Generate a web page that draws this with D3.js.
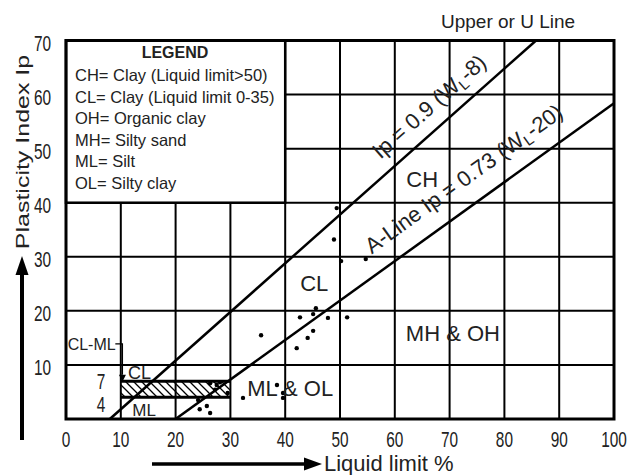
<!DOCTYPE html>
<html>
<head>
<meta charset="utf-8">
<script src="https://cdn.jsdelivr.net/npm/d3@7"></script>
<style>
  body { margin: 0; background: #fff; }
  svg { display: block; font-family: 'Liberation Sans', Arial, sans-serif; }
</style>
</head>
<body>
<svg id="chart" width="629" height="475"></svg>
<script>
const xTicks = [0, 10, 20, 30, 40, 50, 60, 70, 80, 90, 100];
const yTicks = [10, 20, 30, 40, 50, 60, 70];
const legendTitle = 'LEGEND';
const legendItems = [
  'CH= Clay (Liquid limit>50)',
  'CL= Clay (Liquid limit 0-35)',
  'OH= Organic clay',
  'MH= Silty sand',
  'ML= Silt',
  'OL= Silty clay'
];
// Ip = slope * (WL - start)
const lineSlope = [0.9, 0.73];
const lineStart = [8, 20];
// test results
const liquidLimit = [49.4, 48.9, 50.2, 54.7, 45.6, 42.7, 45.1, 47.8, 51.3, 45.1, 44.1, 42.1, 35.6,
  38.5, 39.6, 39.6, 32.3, 29.5, 27.5, 26.3, 28.1, 27.2, 24.1, 25.7, 24.4, 26.3];
const plasticity = [39.0, 33.2, 29.2, 29.6, 20.5, 18.8, 19.4, 18.7, 18.8, 16.3, 15.0, 13.1, 15.5,
  6.3, 4.8, 3.9, 3.9, 4.8, 6.3, 6.6, 6.8, 5.4, 3.5, 2.4, 1.8, 1.1];
// CL-ML band
const bandLL = [10, 30];
const bandIp = [4, 7];

const chart = {
  option: {left: 66, right: 614, top: 40.5, bottom: 419, tickSqueeze: 0.7}
};

function translate(x, y) {
  return `translate(${x}, ${y})`;
};

const svg = d3.select('#chart');
const opt = chart.option;
const x = d3.scaleLinear().domain([0, 100]).range([opt.left, opt.right]);
const y = d3.scaleLinear().domain([0, 70]).range([opt.bottom, opt.top]);

// ---------- hatch pattern ----------
svg.append('defs').append('pattern')
  .attr('id', 'hatch')
  .attr('patternUnits', 'userSpaceOnUse')
  .attr('width', 8).attr('height', 8)
  .append('path')
    .attr('d', 'M0,0L8,8M-4,4L4,12M4,-4L12,4')
    .attr('stroke', '#000')
    .attr('stroke-width', 1.3);

// ---------- grid ----------
const grid = svg.append('g').attr('stroke', '#000').attr('stroke-width', 2);
grid.selectAll('.vx').data(xTicks.slice(1, -1)).enter().append('line')
  .attr('x1', d => x(d)).attr('x2', d => x(d))
  .attr('y1', y(0)).attr('y2', y(70));
grid.selectAll('.hy').data(yTicks.slice(0, -1)).enter().append('line')
  .attr('x1', x(0)).attr('x2', x(100))
  .attr('y1', d => y(d)).attr('y2', d => y(d));

// ---------- CL-ML band ----------
svg.append('rect')
  .attr('x', x(bandLL[0])).attr('y', y(bandIp[1]))
  .attr('width', x(bandLL[1]) - x(bandLL[0]))
  .attr('height', y(bandIp[0]) - y(bandIp[1]))
  .attr('fill', 'url(#hatch)');
svg.selectAll('.band').data(bandIp).enter().append('line')
  .attr('x1', x(bandLL[0])).attr('x2', x(bandLL[1]))
  .attr('y1', d => y(d)).attr('y2', d => y(d))
  .attr('stroke', '#000').attr('stroke-width', 3);

// ---------- U and A lines ----------
const lineEnds = lineSlope.map((s, i) => {
  const xEnd = Math.min(100, lineStart[i] + 70 / s);
  return [[lineStart[i], 0], [xEnd, s * (xEnd - lineStart[i])]];
});
svg.selectAll('.soil-line').data(lineEnds).enter().append('path')
  .attr('d', d3.line().x(d => x(d[0])).y(d => y(d[1])))
  .attr('fill', 'none')
  .attr('stroke', '#000')
  .attr('stroke-width', 2.5);

// ---------- points ----------
svg.selectAll('.pt').data(liquidLimit).enter().append('circle')
  .attr('cx', d => x(d))
  .attr('cy', (d, i) => y(plasticity[i]))
  .attr('r', 2.2)
  .attr('fill', '#000');

// ---------- legend ----------
svg.append('rect')
  .attr('x', x(0)).attr('y', y(70))
  .attr('width', x(40) - x(0)).attr('height', y(40) - y(70))
  .attr('fill', '#fff').attr('stroke', '#000').attr('stroke-width', 2.5);
svg.append('text')
  .attr('x', 175).attr('y', 58)
  .attr('text-anchor', 'middle')
  .attr('font-weight', 'bold')
  .attr('font-size', 16)
  .attr('fill', '#222')
  .text(legendTitle);
svg.selectAll('.legend-item').data(legendItems).enter().append('text')
  .attr('x', 75)
  .attr('y', (d, i) => 81 + i * 21.6)
  .attr('font-size', 16.5)
  .attr('fill', '#222')
  .text(d => d);

// ---------- frame ----------
svg.append('rect')
  .attr('x', x(0)).attr('y', y(70))
  .attr('width', x(100) - x(0)).attr('height', y(0) - y(70))
  .attr('fill', 'none').attr('stroke', '#000').attr('stroke-width', 3);

// ---------- tick labels ----------
function squeezed(sel, px, py, anchor) {
  return sel.append('text')
    .attr('transform', translate(px, py) + ` scale(${opt.tickSqueeze}, 1)`)
    .attr('text-anchor', anchor)
    .attr('font-size', 22)
    .attr('fill', '#222');
}
xTicks.forEach(t => squeezed(svg, x(t), 447, 'middle').text(t));
yTicks.forEach(t => squeezed(svg, 51, y(t) + 10, 'end').text(t));
bandIp.forEach(t => squeezed(svg, 101, y(t) + (t === bandIp[1] ? 8 : 15), 'middle').text(t));

// ---------- zone labels ----------
const zone = (txt, lx, ly, size, anchor) => svg.append('text')
  .attr('x', x(lx)).attr('y', y(ly))
  .attr('text-anchor', anchor || 'middle')
  .attr('font-size', size)
  .attr('fill', '#222')
  .text(txt);
zone('CH', 65.0, 42.9, 22);
zone('CL', 45.3, 23.7, 22);
zone('MH & OH', 70.6, 14.4, 22);
zone('ML & OL', 40.9, 4.3, 22);
zone('CL', 11.3, 7.4, 18, 'start');
zone('ML', 12.1, 0.6, 17, 'start');
zone('CL-ML', 0.3, 12.8, 16, 'start');

// CL-ML pointer
svg.append('path')
  .attr('d', `M${x(9.0)},${y(13.9)}H${x(10.3)}V${y(8.2)}`)
  .attr('fill', 'none').attr('stroke', '#000').attr('stroke-width', 1.2);
svg.append('path')
  .attr('d', `M${x(10.3) - 3.5},${y(8.2)}h7l-3.5,7z`)
  .attr('fill', '#000');

svg.append('text')
  .attr('x', 441).attr('y', 28)
  .attr('font-size', 19)
  .attr('fill', '#222')
  .text('Upper or U Line');

// ---------- labels along the lines ----------
function lineLabel(i, from, offset, parts) {
  const s = lineSlope[i], s0 = lineStart[i];
  const p0 = [x(from), y(s * (from - s0))];
  const p1 = [x(from + 10), y(s * (from + 10 - s0))];
  const angle = Math.atan2(p1[1] - p0[1], p1[0] - p0[0]) * 180 / Math.PI;
  const t = svg.append('text')
    .attr('transform', translate(p0[0], p0[1]) + ` rotate(${angle})`)
    .attr('y', -offset)
    .attr('font-size', 22)
    .attr('fill', '#222');
  t.append('tspan').text(parts[0]);
  t.append('tspan').attr('font-size', 15).attr('dy', 4).text('L');
  t.append('tspan').attr('dy', -4).text(parts[1]);
}
lineLabel(0, 59.1, 14, ['Ip = 0.9 (W', '-8)']);
lineLabel(1, 57.8, 19, ['A-Line Ip = 0.73 (W', '-20)']);

// ---------- axis titles ----------
svg.append('text')
  .attr('transform', translate(29, 152) + ' rotate(-90) scale(1, 0.72)')
  .attr('text-anchor', 'middle')
  .attr('font-size', 25)
  .attr('fill', '#222')
  .text('Plasticity Index Ip');
svg.append('text')
  .attr('x', 324).attr('y', 471)
  .attr('font-size', 22)
  .attr('fill', '#222')
  .text('Liquid limit %');

// arrows
svg.append('line')
  .attr('x1', 22).attr('x2', 22).attr('y1', 440).attr('y2', 272)
  .attr('stroke', '#000').attr('stroke-width', 4);
svg.append('path').attr('d', 'M22,256L15.5,275H28.5Z').attr('fill', '#000');
svg.append('line')
  .attr('x1', 152).attr('x2', 306).attr('y1', 464).attr('y2', 464)
  .attr('stroke', '#000').attr('stroke-width', 3.5);
svg.append('path').attr('d', 'M322,464L304,457.5V470.5Z').attr('fill', '#000');
</script>
</body>
</html>
